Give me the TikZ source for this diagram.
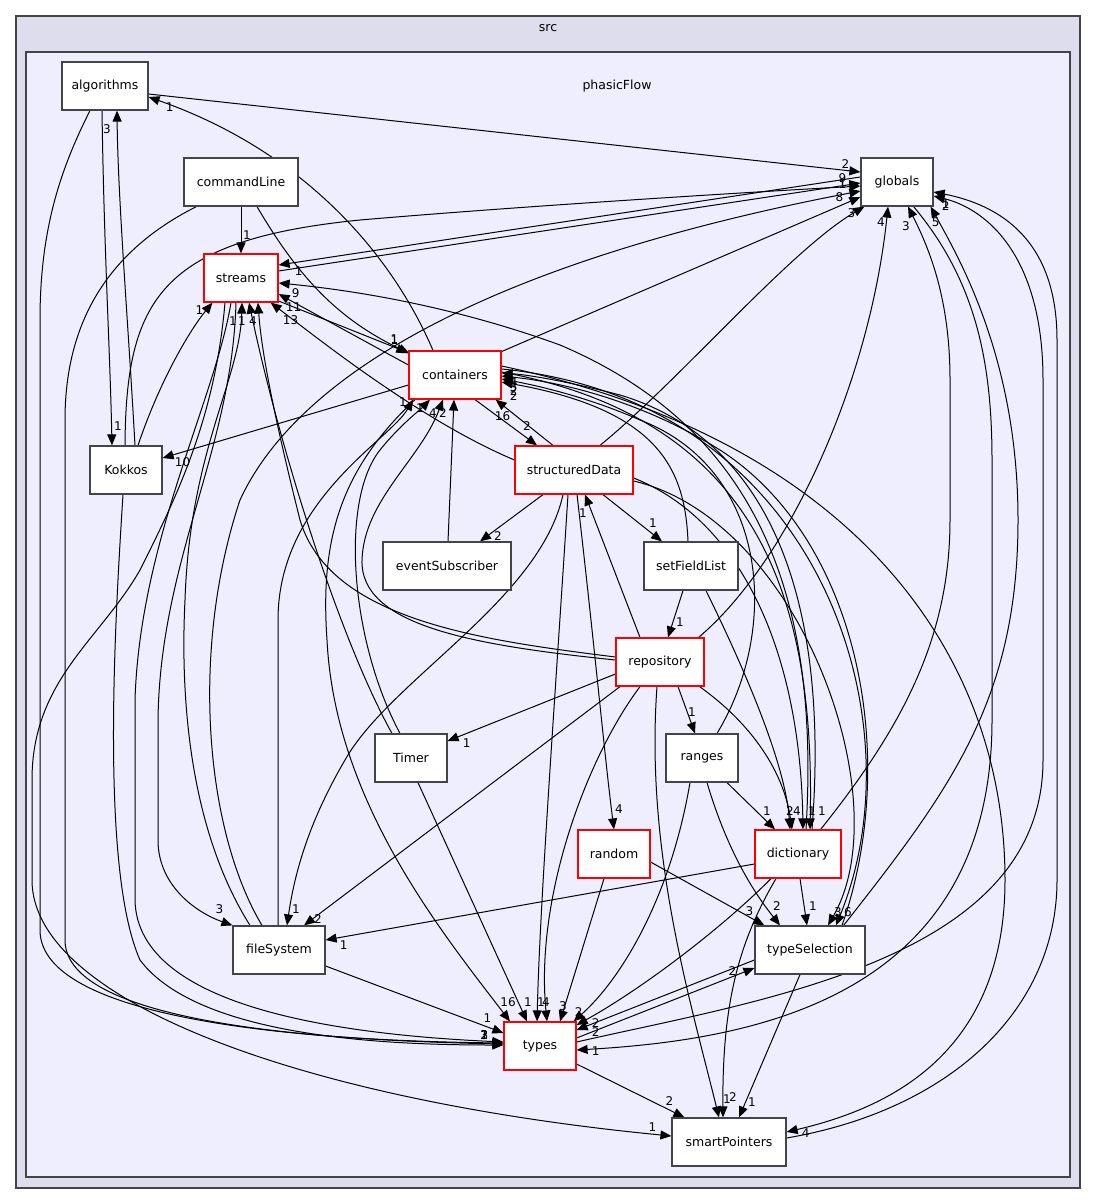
\documentclass[tikz,border=0pt]{standalone}
\usepackage{fontspec}
\setmainfont{DejaVu Sans}
\usetikzlibrary{arrows.meta,calc}
\definecolor{srcfill}{HTML}{DDDDEE}
\definecolor{flowfill}{HTML}{EEEEFF}
\definecolor{frame}{HTML}{444444}
\pgfdeclarelayer{edges}
\pgfsetlayers{edges,main}
\tikzset{
  dirnode/.style={draw=frame, fill=white, line width=1.2pt, minimum width=#1,
    minimum height=48, inner sep=0pt, font=\fontsize{12.5}{14}\selectfont},
  reddir/.style={dirnode=#1, draw=red},
  dep/.style={-{Triangle[length=11pt,width=9pt]}, line width=1pt},
  num/.style={font=\fontsize{12}{14}\selectfont, inner sep=0pt},
}
\begin{document}
\begin{tikzpicture}[x=1pt,y=-1pt]
\useasboundingbox (0,0) rectangle (1096,1204);

% Define directories
\node[dirnode=86] (algorithms) at (105,86) {algorithms};
\node[dirnode=72] (globals) at (897,182) {globals};
\node[dirnode=114] (commandLine) at (241,182) {commandLine};
\node[reddir=74] (streams) at (241,278) {streams};
\node[reddir=92] (containers) at (455,375) {containers};
\node[dirnode=72] (Kokkos) at (126,470) {Kokkos};
\node[reddir=118] (structuredData) at (574,470) {structuredData};
\node[dirnode=128] (eventSubscriber) at (447,566) {eventSubscriber};
\node[dirnode=94] (setFieldList) at (691,566) {setFieldList};
\node[reddir=88] (repository) at (660,662) {repository};
\node[dirnode=72] (Timer) at (411,758) {Timer};
\node[dirnode=72] (ranges) at (702,758) {ranges};
\node[reddir=72] (random) at (614,854) {random};
\node[reddir=86] (dictionary) at (798,854) {dictionary};
\node[dirnode=92] (fileSystem) at (279,950) {fileSystem};
\node[dirnode=110] (typeSelection) at (810,950) {typeSelection};
\node[reddir=72] (types) at (540,1046) {types};
\node[dirnode=114] (smartPointers) at (729,1142) {smartPointers};

\begin{pgfonlayer}{edges}
% Clusters
\draw[frame, line width=1.2pt, fill=srcfill] (16,16) rectangle (1080,1188);
\node[font=\fontsize{12.5}{14}\selectfont] (srclabel) at (548,28) {src};
\draw[frame, line width=1.2pt, fill=flowfill] (26,52) rectangle (1070,1177);
\node[font=\fontsize{12.5}{14}\selectfont] (flowlabel) at (617,86) {phasicFlow};

% algorithms
\draw[dep] ($(algorithms.east)+(0,8)$) -- ($(globals.west)+(0,-10)$) node[num,shift={(-15,-8)}] {2};
\draw[dep] ($(algorithms.south)+(-3,0)$) .. controls (104,250) and (110,350) .. ($(Kokkos.north)+(-14,0)$) node[num,shift={(6,-19)}] {1};
\draw[dep] ($(algorithms.south)+(-15,0)$) .. controls (60,170) and (40,230) .. (40,320) -- (40,930) .. controls (40,1010) and (250,1040) .. ($(types.west)+(0,-3)$) node[num,shift={(-19,-8)}] {3};

% Kokkos
\draw[dep] ($(Kokkos.north)+(9,0)$) .. controls (128,320) and (118,200) .. ($(algorithms.south)+(12,0)$) node[num,shift={(-10,19)}] {3};
\draw[dep] ($(Kokkos.north)+(-1,0)$) .. controls (126,300) and (160,240) .. (360,220) .. controls (500,208) and (700,195) .. ($(globals.west)+(0,4)$) node[num,shift={(-18,-2)}] {1};
\draw[dep] ($(Kokkos.north)+(12,0)$) .. controls (160,380) and (190,330) .. ($(streams.south west)+(9,0)$) node[num,shift={(-13,8)}] {1};
\draw[dep] ($(Kokkos.south)+(-3,0)$) .. controls (115,620) and (100,870) .. (140,960) .. controls (200,1040) and (400,1045) .. ($(types.west)+(0,-1)$) node[num,shift={(-19,-10)}] {1};

% commandLine
\draw[dep] (commandLine.south) -- (streams.north) node[num,shift={(6,-18)}] {1};
\draw[dep] ($(commandLine.south)+(16,0)$) .. controls (300,280) and (340,320) .. ($(containers.north west)+(1,3)$) node[num,shift={(-15,-14)}] {1};
\draw[dep] ($(commandLine.south west)+(13,0)$) .. controls (110,250) and (65,320) .. (65,420) -- (65,940) .. controls (65,1020) and (300,1040) .. ($(types.west)+(0,-2)$) node[num,shift={(-19,-9)}] {2};

% streams
\draw[dep] ($(streams.east)+(0,-7)$) -- ($(globals.west)+(0,1)$) node[num,shift={(-18,-5)}] {9};
\draw[dep] ($(streams.south)+(-16,0)$) .. controls (215,420) and (175,500) .. (140,570) .. controls (100,640) and (32,680) .. (32,780) -- (32,880) .. controls (32,1000) and (300,1100) .. ($(smartPointers.west)+(0,-6)$) node[num,shift={(-19,-9)}] {1};
\draw[dep] ($(streams.south)+(-10,0)$) .. controls (215,400) and (140,540) .. (135,700) -- (135,900) .. controls (137,1010) and (350,1035) .. ($(types.west)+(0,-4)$) node[num,shift={(-19,-7)}] {2};
\draw[dep] ($(streams.south)+(-5,0)$) .. controls (232,450) and (160,560) .. (158,720) -- (158,840) .. controls (158,885) and (195,912) .. (fileSystem.north west) node[num,shift={(-13,-16)}] {3};
\draw[dep] ($(streams.south east)+(-1,-2)$) -- ($(containers.north west)+(-1,2)$) node[num,shift={(-13,-12)}] {1};

% containers
\draw[dep] ($(containers.north)+(-22,0)$) .. controls (390,250) and (300,150) .. ($(algorithms.east)+(0,11)$) node[num,shift={(21,10)}] {1};
\draw[dep] ($(containers.north east)+(-2,2)$) -- ($(globals.west)+(0,15)$) node[num,shift={(-21,0)}] {8};
\draw[dep] ($(containers.west)+(0,-10)$) -- ($(streams.east)+(0,16)$) node[num,shift={(15,13)}] {11};
\draw[dep] ($(containers.west)+(0,10)$) -- ($(Kokkos.east)+(0,-12)$) node[num,shift={(20,4)}] {10};
\draw[dep] ($(containers.south)+(20,0)$) -- ($(structuredData.north)+(-37,0)$) node[num,shift={(-10,-19)}] {2};
\draw[dep] ($(containers.south)+(-40,0)$) .. controls (340,470) and (320,540) .. (327,640) .. controls (335,800) and (440,930) .. ($(types.north)+(-30,0)$) node[num,shift={(-2,-19)}] {16};
\draw[dep] ($(containers.east)+(0,-3)$) .. controls (760,420) and (815,600) .. ($(dictionary.north)+(12,0)$) node[num,shift={(12,-18)}] {1};
\draw[dep] ($(containers.east)+(0,-6)$) .. controls (820,400) and (920,720) .. ($(typeSelection.north)+(26,0)$) node[num,shift={(12,-13)}] {6};
\draw[dep] ($(containers.east)+(0,-9)$) .. controls (850,440) and (1005,650) .. (1005,880) .. controls (1005,1060) and (880,1110) .. ($(smartPointers.east)+(0,-10)$) node[num,shift={(19,1)}] {4};

% structuredData
\draw[dep] ($(structuredData.north)+(26,0)$) .. controls (680,380) and (790,250) .. ($(globals.south west)+(4,0)$) node[num,shift={(-13,7)}] {3};
\draw[dep] ($(structuredData.north)+(-21,0)$) -- ($(containers.south east)+(-6,0)$) node[num,shift={(7,17)}] {16};
\draw[dep] ($(structuredData.west)+(0,-10)$) .. controls (420,420) and (320,340) .. ($(streams.south east)+(-8,0)$) node[num,shift={(20,18)}] {13};
\draw[dep] ($(structuredData.south)+(-31,0)$) -- ($(eventSubscriber.north)+(33,0)$) node[num,shift={(18,-5)}] {2};
\draw[dep] ($(structuredData.south)+(29,0)$) -- ($(setFieldList.north)+(-29,0)$) node[num,shift={(-9,-18)}] {1};
\draw[dep] ($(structuredData.south)+(-11,0)$) .. controls (540,600) and (390,680) .. (345,760) .. controls (310,820) and (295,870) .. ($(fileSystem.north)+(8,0)$) node[num,shift={(9,-16)}] {1};
\draw[dep] ($(structuredData.south)+(-6,0)$) .. controls (555,700) and (540,900) .. ($(types.north)+(-3,0)$) node[num,shift={(4,-19)}] {1};
\draw[dep] ($(structuredData.south)+(3,0)$) .. controls (595,650) and (605,760) .. (random.north) node[num,shift={(5,-20)}] {4};
\draw[dep] ($(structuredData.east)+(0,8)$) .. controls (740,520) and (800,650) .. ($(dictionary.north)+(5,0)$) node[num,shift={(9,-18)}] {1};
\draw[dep] ($(structuredData.east)+(0,11)$) .. controls (800,520) and (900,800) .. ($(typeSelection.north)+(18,0)$) node[num,shift={(10,-13)}] {3};

% eventSubscriber, setFieldList
\draw[dep] ($(eventSubscriber.north)+(1,0)$) -- ($(containers.south)+(-1,0)$) node[num,shift={(-11,13)}] {2};
\draw[dep] ($(setFieldList.north)+(-3,0)$) .. controls (685,470) and (660,410) .. ($(containers.east)+(0,7)$) node[num,shift={(12,14)}] {2};
\draw[dep] ($(setFieldList.south)+(-8,0)$) -- ($(repository.north)+(8,0)$) node[num,shift={(12,-15)}] {1};
\draw[dep] ($(setFieldList.south)+(15,0)$) .. controls (740,660) and (785,760) .. ($(dictionary.north)+(-8,0)$) node[num,shift={(0,-18)}] {2};

% repository
\draw[dep] ($(repository.north)+(-20,0)$) -- ($(structuredData.south)+(11,0)$) node[num,shift={(-2,19)}] {1};
\draw[dep] ($(repository.north east)+(-6,0)$) .. controls (790,560) and (870,380) .. ($(globals.south)+(-9,0)$) node[num,shift={(-7,16)}] {4};
\draw[dep] ($(repository.west)+(0,12)$) -- ($(Timer.east)+(0,-17)$) node[num,shift={(19,2)}] {1};
\draw[dep] ($(repository.south)+(18,0)$) -- ($(ranges.north)+(-7,0)$) node[num,shift={(-3,-21)}] {1};
\draw[dep] ($(repository.south)+(-40,0)$) -- ($(fileSystem.north)+(25,0)$) node[num,shift={(14,-6)}] {2};
\draw[dep] ($(repository.south)+(-20,0)$) .. controls (585,760) and (535,900) .. ($(types.north)+(7,0)$) node[num,shift={(-1,-19)}] {4};
\draw[dep] ($(repository.south)+(-3,0)$) .. controls (645,850) and (690,1000) .. ($(smartPointers.north)+(-10,0)$) node[num,shift={(8,-18)}] {1};
\draw[dep] ($(repository.south east)+(-5,0)$) .. controls (760,730) and (785,780) .. ($(dictionary.north)+(-6,0)$) node[num,shift={(5,-18)}] {4};
\draw[dep] ($(repository.west)+(0,-5)$) .. controls (480,640) and (330,620) .. (300,520) .. controls (280,440) and (262,360) .. ($(streams.south)+(17,0)$) node[num,shift={(-5,19)}] {4};
\draw[dep] ($(repository.west)+(0,-2)$) .. controls (470,645) and (360,625) .. (362,560) .. controls (364,500) and (420,460) .. ($(containers.south)+(-12,0)$) node[num,shift={(-10,14)}] {4};

% Timer
\draw[dep] ($(Timer.north)+(-19,0)$) .. controls (340,640) and (280,450) .. ($(streams.south)+(8,0)$) node[num,shift={(-7,19)}] {1};
\draw[dep] ($(Timer.north)+(-11,0)$) .. controls (350,640) and (340,500) .. (380,450) .. controls (400,425) and (420,410) .. ($(containers.south)+(-25,0)$) node[num,shift={(-10,9)}] {1};
\draw[dep] ($(Timer.south)+(7,0)$) -- ($(types.north)+(-13,0)$) node[num,shift={(1,-19)}] {1};

% ranges
\draw[dep] ($(ranges.north)+(15,0)$) .. controls (780,630) and (770,470) .. (640,420) .. controls (590,398) and (540,386) .. ($(containers.east)+(0,4)$) node[num,shift={(12,12)}] {2};
\draw[dep] ($(ranges.south)+(25,0)$) -- ($(dictionary.north)+(-23,0)$) node[num,shift={(-8,-18)}] {1};
\draw[dep] ($(ranges.south)+(5,0)$) .. controls (730,860) and (760,900) .. ($(typeSelection.north)+(-30,0)$) node[num,shift={(-3,-19)}] {2};
\draw[dep] ($(ranges.south)+(-12,0)$) .. controls (670,900) and (620,980) .. ($(types.north east)+(-3,0)$) node[num,shift={(5,-9)}] {2};

% random
\draw[dep] ($(random.south)+(-10,0)$) -- ($(types.north)+(20,0)$) node[num,shift={(3,-15)}] {3};
\draw[dep] ($(random.east)+(0,8)$) -- ($(typeSelection.north west)+(10,0)$) node[num,shift={(-15,-14)}] {3};

% dictionary
\draw[dep] ($(dictionary.north east)+(-21,0)$) .. controls (900,730) and (950,640) .. (950,520) -- (950,380) .. controls (950,300) and (930,250) .. ($(globals.south)+(11,0)$) node[num,shift={(-2,20)}] {3};
\draw[dep] ($(dictionary.north)+(8,0)$) .. controls (820,600) and (760,430) .. (560,345) .. controls (450,305) and (350,290) .. ($(streams.east)+(0,5)$) node[num,shift={(17,10)}] {9};
\draw[dep] ($(dictionary.north)+(14,0)$) .. controls (830,600) and (770,440) .. (620,395) .. controls (570,382) and (530,375) .. ($(containers.east)+(0,-2)$) node[num,shift={(12,9)}] {4};
\draw[dep] ($(dictionary.west)+(0,10)$) -- ($(fileSystem.east)+(0,-10)$) node[num,shift={(18,5)}] {1};
\draw[dep] ($(dictionary.south)+(2,0)$) -- ($(typeSelection.north)+(-3,0)$) node[num,shift={(6,-19)}] {1};
\draw[dep] ($(dictionary.south)+(-27,0)$) .. controls (720,930) and (640,990) .. ($(types.east)+(0,-21)$) node[num,shift={(19,-2)}] {2};
\draw[dep] ($(dictionary.south)+(-22,0)$) .. controls (740,940) and (722,1000) .. ($(smartPointers.north)+(-6,0)$) node[num,shift={(10,-20)}] {2};

% fileSystem
\draw[dep] ($(fileSystem.north)+(-29,0)$) .. controls (190,830) and (180,700) .. (185,600) .. controls (190,450) and (240,380) .. ($(streams.south)+(1,0)$) node[num,shift={(-9,19)}] {1};
\draw[dep] ($(fileSystem.north)+(-17,0)$) .. controls (205,830) and (190,650) .. (240,500) .. controls (300,370) and (500,260) .. ($(globals.west)+(0,9)$) node[num,shift={(-18,-7)}] {1};
\draw[dep] ($(fileSystem.north)+(-1,0)$) -- (278,620) .. controls (278,500) and (390,440) .. ($(containers.south)+(-42,0)$) node[num,shift={(-10,3)}] {1};
\draw[dep] ($(fileSystem.east)+(0,16)$) -- ($(types.west)+(0,-13)$) node[num,shift={(-16,-15)}] {1};

% typeSelection
\draw[dep] ($(typeSelection.north east)+(-22,0)$) .. controls (950,790) and (1018,700) .. (1018,520) .. controls (1018,360) and (960,260) .. ($(globals.south east)+(-3,0)$) node[num,shift={(5,16)}] {5};
\draw[dep] ($(typeSelection.north)+(32,0)$) .. controls (900,760) and (860,540) .. (720,450) .. controls (640,400) and (560,382) .. ($(containers.east)+(0,1)$) node[num,shift={(12,11)}] {5};
\draw[dep] ($(typeSelection.west)+(0,10)$) -- ($(types.east)+(0,-16)$) node[num,shift={(19,2)}] {2};
\draw[dep] ($(typeSelection.south)+(-10,0)$) -- ($(smartPointers.north)+(10,0)$) node[num,shift={(13,-15)}] {1};

% types
\draw[dep] ($(types.east)+(0,-8)$) -- ($(typeSelection.west)+(0,18)$) node[num,shift={(-22,3)}] {2};
\draw[dep] ($(types.east)+(0,18)$) -- ($(smartPointers.north west)+(13,0)$) node[num,shift={(-15,-16)}] {2};
\draw[dep] ($(types.east)+(0,-4)$) .. controls (760,1000) and (1043,960) .. (1043,760) -- (1043,380) .. controls (1043,260) and (990,210) .. ($(globals.east)+(0,14)$) node[num,shift={(12,10)}] {2};

% globals, smartPointers
\draw[dep] ($(globals.west)+(0,-5)$) -- ($(streams.east)+(0,-13)$) node[num,shift={(20,6)}] {1};
\draw[dep] ($(globals.south east)+(-20,0)$) .. controls (975,280) and (992,360) .. (992,460) -- (992,720) .. controls (992,1000) and (750,1040) .. ($(types.east)+(0,4)$) node[num,shift={(19,1)}] {1};
\draw[dep] ($(smartPointers.east)+(0,-4)$) .. controls (950,1110) and (1057,1010) .. (1057,880) -- (1057,340) .. controls (1057,240) and (1000,205) .. ($(globals.east)+(0,10)$) node[num,shift={(12,12)}] {1};
\end{pgfonlayer}

\end{tikzpicture}
\end{document}
